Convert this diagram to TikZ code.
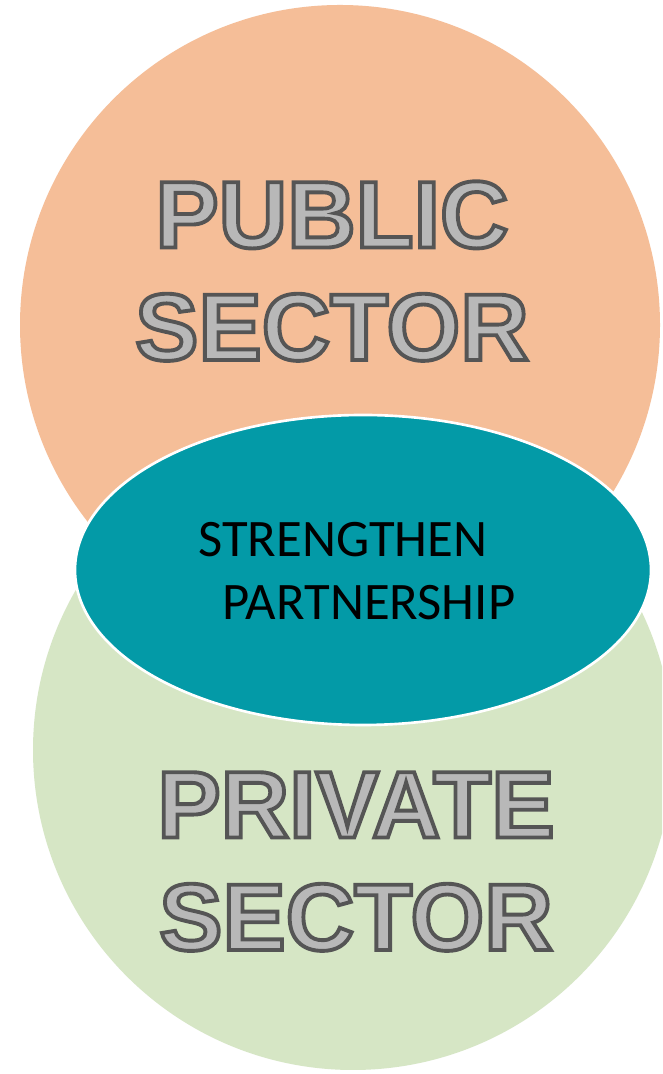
\documentclass[tikz,border=0pt]{standalone}
\usepackage{fontspec}
\newfontfamily\sectorfont{Liberation Sans}
\newfontfamily\calfont{Carlito}
\definecolor{peach}{RGB}{245,190,152}
\definecolor{sage}{RGB}{214,230,197}
\definecolor{teal}{RGB}{3,154,167}
\definecolor{stripe}{RGB}{184,184,184}
% outlined letters: fill in stripe grey, stroke in dark grey
\newcommand{\sectortext}[1]{\textcolor{stripe}{%
  \special{pdf:literal direct 2 Tr 2.2 w 0.333 0.333 0.333 RG}#1%
  \special{pdf:literal direct 0 Tr}}}
\tikzset{
  sectorlabel/.style={anchor=base, align=center, inner sep=0pt,
    font=\sectorfont\bfseries\fontsize{54}{64}\selectfont},
  centrelabel/.style={anchor=base west, align=left, inner sep=0pt,
    font=\calfont\fontsize{30}{36.4}\selectfont}
}
\begin{document}
\begin{tikzpicture}[x=0.02cm, y=0.02cm]
\clip (0,0) rectangle (662,1074);
\fill[white] (0,0) rectangle (662,1074);

\fill[sage] (353,324) circle (320);
\fill[peach] (340,749) circle (320);
\draw[white, line width=1.5pt, fill=teal] (363,504) ellipse (288 and 155);

\node[sectorlabel] (public) at (332,714) {\sectortext{PUBLIC}\\\sectortext{SECTOR}};
\node[sectorlabel] (private) at (356,124) {\sectortext{PRIVATE}\\\sectortext{SECTOR}};
\node[centrelabel] (partner) at (198,454) {STRENGTHEN\\\hspace*{0.48cm}PARTNERSHIP};
\end{tikzpicture}
\end{document}
